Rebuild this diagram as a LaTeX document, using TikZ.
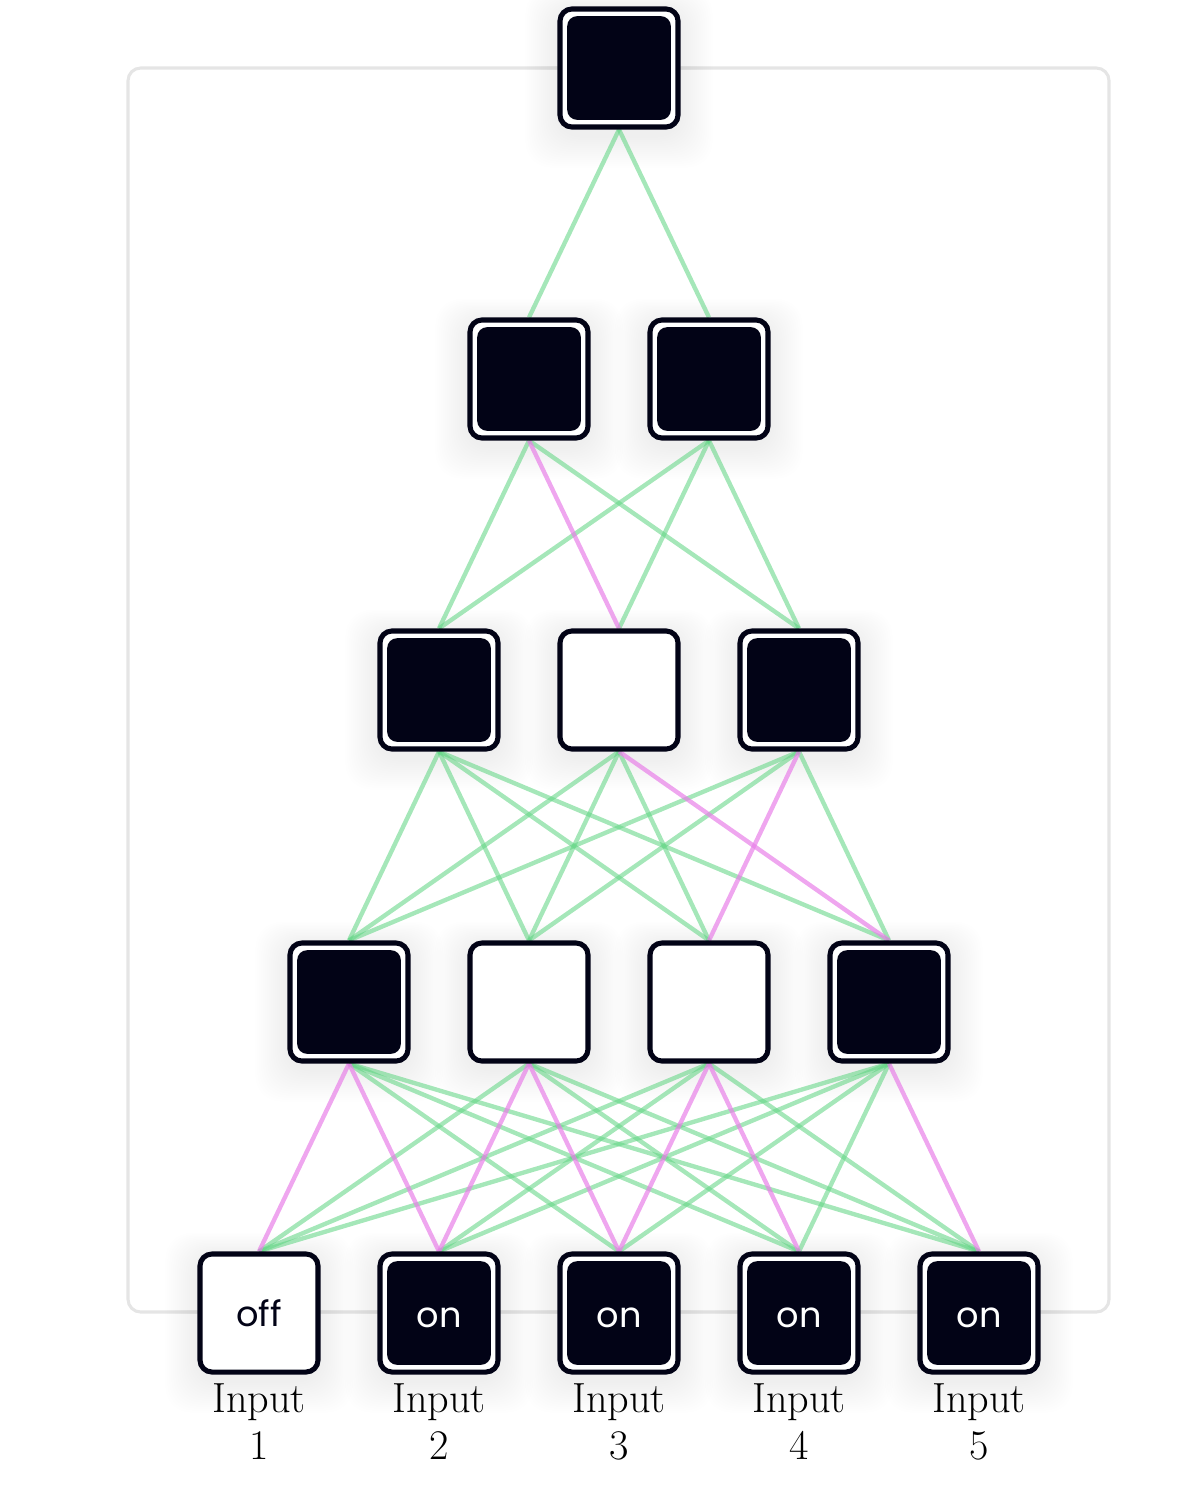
\documentclass[tikz,border=0pt]{standalone}
\usepackage{fontspec}
\newfontfamily\cellfont{Poppins}
\pgfdeclarelayer{back}
\pgfdeclarelayer{mid}
\pgfsetlayers{back,mid,main}
\begin{document}
\definecolor{ink}{RGB}{2,3,22}
\definecolor{framegray}{RGB}{229,229,229}
\definecolor{wiregreen}{RGB}{100,214,134}
\definecolor{wirepink}{RGB}{232,128,232}
\tikzset{
  cellbox/.style={rectangle, rounded corners=8.5pt, minimum size=2.95cm,
    inner sep=0pt, draw=ink, line width=3.6pt, fill=white,
    font=\cellfont\fontsize{25}{30}\selectfont},
  litcell/.style={cellbox, text=white,
    path picture={\fill[ink, rounded corners=7pt]
      ([shift={(0.18cm,-0.18cm)}]path picture bounding box.north west) rectangle
      ([shift={(-0.18cm,0.18cm)}]path picture bounding box.south east);}},
  wire/.style={line width=3.1pt, draw=wiregreen, draw opacity=0.58},
  hotwire/.style={line width=3.1pt, draw=wirepink, draw opacity=0.7},
  caption/.style={anchor=north, inner sep=0pt, align=center,
    font=\fontsize{30}{33.4}\selectfont},
  shadowlayer/.style={fill=black, opacity=0.005, rounded corners=18pt},
}
% set a short word so that its x-height sits at the middle of the cell
\newcommand\lowtext[1]{\raisebox{-0.35cm}[0pt][0pt]{#1}}
\begin{tikzpicture}[x=0.025cm, y=-0.025cm]
  \useasboundingbox (0,0) rectangle (1200,1492);

  % cells
  \node[litcell] (t) at (619,68) {};
  \node[litcell] (b1) at (529,379) {};
  \node[litcell] (b2) at (709,379) {};
  \node[litcell] (c1) at (439,690) {};
  \node[cellbox] (c2) at (619,690) {};
  \node[litcell] (c3) at (799,690) {};
  \node[litcell] (d1) at (349,1002) {};
  \node[cellbox] (d2) at (529,1002) {};
  \node[cellbox] (d3) at (709,1002) {};
  \node[litcell] (d4) at (889,1002) {};
  \node[cellbox, text=ink] (i1) at (259,1313) {off};
  \node[litcell] (i2) at (439,1313) {\lowtext{on}};
  \node[litcell] (i3) at (619,1313) {\lowtext{on}};
  \node[litcell] (i4) at (799,1313) {\lowtext{on}};
  \node[litcell] (i5) at (979,1313) {\lowtext{on}};

  % outer frame and soft shadows under the cells
  \begin{pgfonlayer}{back}
    \draw[framegray, line width=2.2pt, rounded corners=9pt] (128,68) rectangle (1109,1312);
    \foreach \n in {t,b1,b2,c1,c2,c3,d1,d2,d3,d4,i1,i2,i3,i4,i5} {
      \foreach \k in {1,...,16}
        \fill[shadowlayer] ([shift={(-\k*2.0,-\k*1.4+4)}]\n.north west)
          rectangle ([shift={(\k*2.0,\k*2.0+6)}]\n.south east);
    }
  \end{pgfonlayer}

  % connections
  \begin{pgfonlayer}{mid}
    \foreach \a/\b in {t/b1, t/b2,
        b1/c1, b1/c3, b2/c1, b2/c2, b2/c3,
        c1/d1, c1/d2, c1/d3, c1/d4, c2/d1, c2/d2, c2/d3, c3/d1, c3/d2, c3/d4,
        d1/i3, d1/i4, d1/i5, d2/i1, d2/i4, d2/i5, d3/i1, d3/i2, d3/i5,
        d4/i1, d4/i2, d4/i3, d4/i4}
      \draw[wire] (\a.south) -- (\b.north);
    \foreach \a/\b in {b1/c2, c2/d4, c3/d3,
        d1/i1, d1/i2, d2/i2, d2/i3, d3/i3, d3/i4, d4/i5}
      \draw[hotwire] (\a.south) -- (\b.north);
  \end{pgfonlayer}

  % input captions
  \node[caption] (l1) at (259,1383) {Input\\1};
  \node[caption] (l2) at (439,1383) {Input\\2};
  \node[caption] (l3) at (619,1383) {Input\\3};
  \node[caption] (l4) at (799,1383) {Input\\4};
  \node[caption] (l5) at (979,1383) {Input\\5};
\end{tikzpicture}
\end{document}
